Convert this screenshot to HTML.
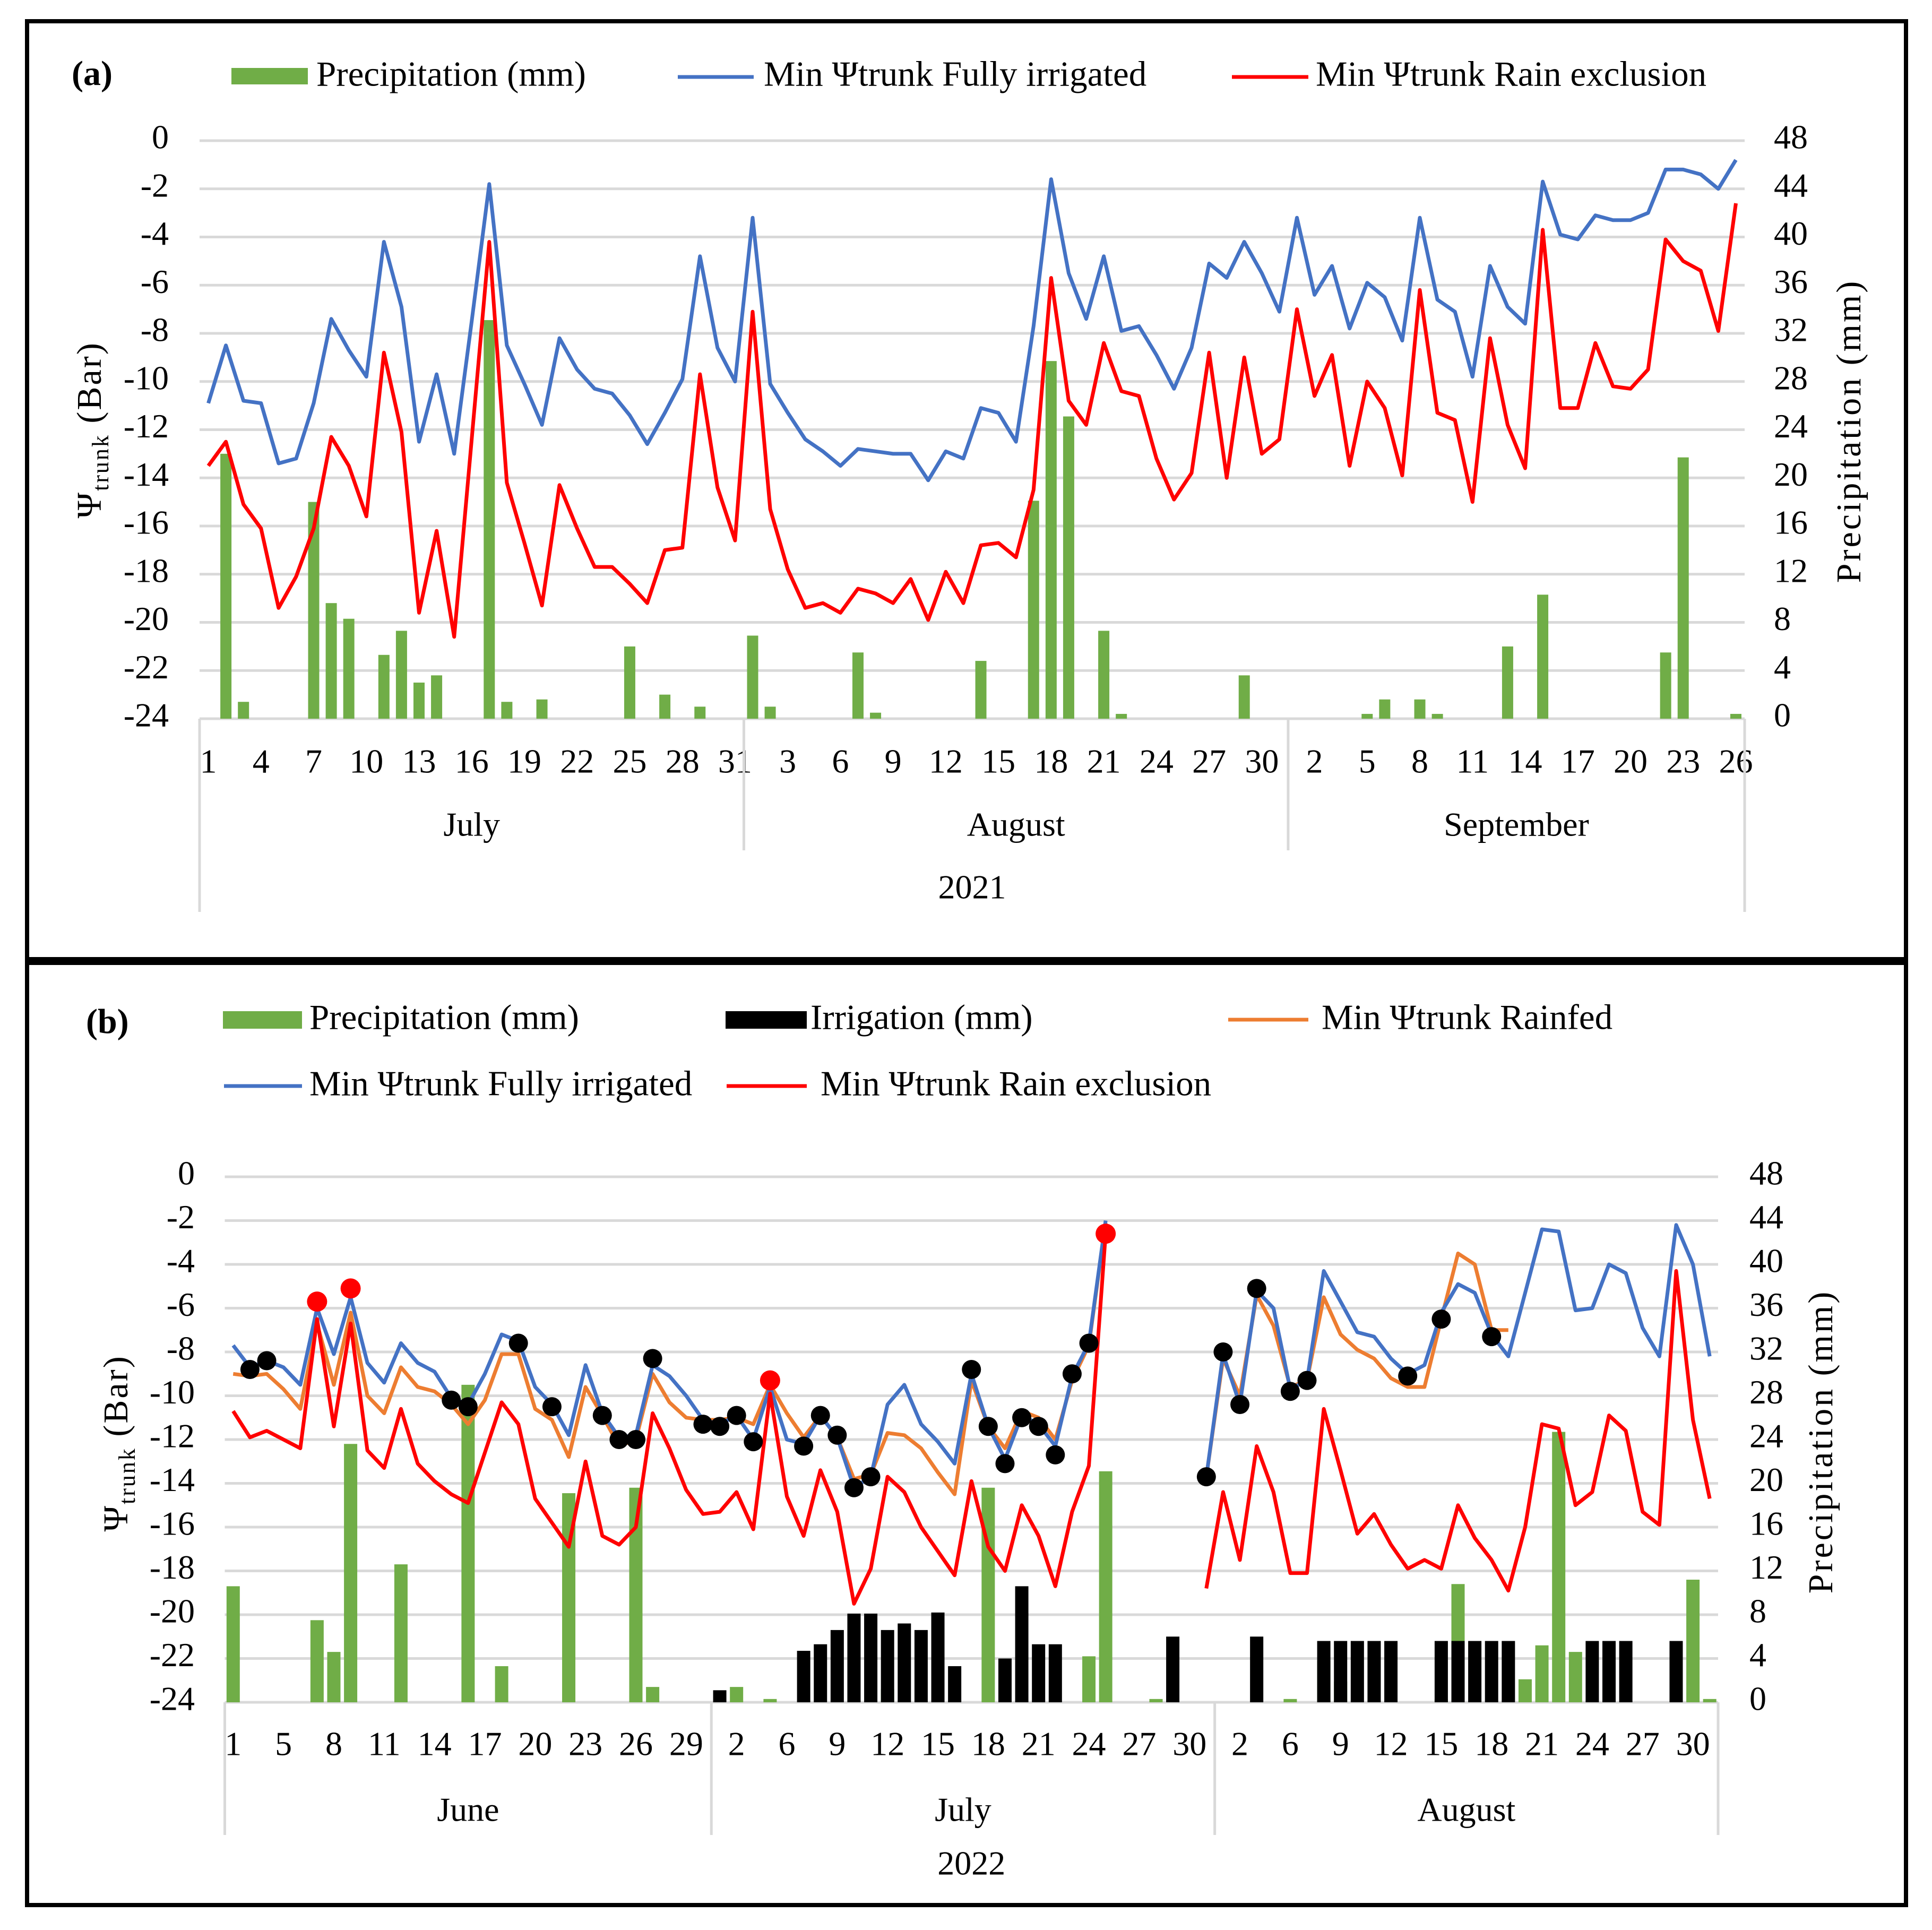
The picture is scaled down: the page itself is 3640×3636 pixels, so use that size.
<!DOCTYPE html>
<html>
<head>
<meta charset="utf-8">
<style>
html,body{margin:0;padding:0;background:#fff;}
svg{display:block;font-family:"Liberation Serif","DejaVu Serif",serif;}
</style>
</head>
<body>
<svg id="fig" xmlns="http://www.w3.org/2000/svg" width="3640" height="3636" viewBox="0 0 3640 3636">
  <rect x="0" y="0" width="3640" height="3636" fill="#fff"/>
  <rect x="51" y="40" width="3540" height="3549" fill="none" stroke="#000" stroke-width="8"/>
  <rect x="51" y="1803" width="3540" height="15" fill="#000"/>

  <g id="panelA">
    <text x="135" y="145" font-size="66" font-weight="bold" dominant-baseline="middle">(a)</text>
    <g>
      <rect x="436" y="128" width="144" height="31" fill="#70AD47"/>
      <text x="596" y="146" font-size="67" dominant-baseline="middle">Precipitation (mm)</text>
      <line x1="1277" y1="145" x2="1420" y2="145" stroke="#4472C4" stroke-width="7"/>
      <text x="1439" y="146" font-size="67" dominant-baseline="middle">Min Ψtrunk Fully irrigated</text>
      <line x1="2321" y1="145" x2="2465" y2="145" stroke="#FF0000" stroke-width="7"/>
      <text x="2479" y="146" font-size="67" dominant-baseline="middle">Min Ψtrunk Rain exclusion</text>
    </g>
    <text transform="translate(190,810) rotate(-90)" text-anchor="middle" font-size="66" letter-spacing="3">Ψ<tspan font-size="44" dy="14">trunk</tspan><tspan dy="-14"> (Bar)</tspan></text>
    <text transform="translate(3505,812) rotate(-90)" text-anchor="middle" font-size="66" letter-spacing="4">Precipitation (mm)</text>
  </g>

  <g id="panelB">
    <text x="162" y="1931" font-size="66" font-weight="bold" dominant-baseline="middle">(b)</text>
    <g>
      <rect x="420" y="1905" width="149" height="33" fill="#70AD47"/>
      <text x="583" y="1923" font-size="67" dominant-baseline="middle">Precipitation (mm)</text>
      <rect x="1367" y="1905" width="153" height="33" fill="#000"/>
      <text x="1527" y="1923" font-size="67" dominant-baseline="middle">Irrigation (mm)</text>
      <line x1="2314" y1="1921" x2="2465" y2="1921" stroke="#ED7D31" stroke-width="7"/>
      <text x="2490" y="1923" font-size="67" dominant-baseline="middle">Min Ψtrunk Rainfed</text>
      <line x1="422" y1="2046" x2="569" y2="2046" stroke="#4472C4" stroke-width="7"/>
      <text x="583" y="2048" font-size="67" dominant-baseline="middle">Min Ψtrunk Fully irrigated</text>
      <line x1="1369" y1="2046" x2="1520" y2="2046" stroke="#FF0000" stroke-width="7"/>
      <text x="1546" y="2048" font-size="67" dominant-baseline="middle">Min Ψtrunk Rain exclusion</text>
    </g>
    <text transform="translate(240,2719) rotate(-90)" text-anchor="middle" font-size="66" letter-spacing="3">Ψ<tspan font-size="44" dy="14">trunk</tspan><tspan dy="-14"> (Bar)</tspan></text>
    <text transform="translate(3452,2716) rotate(-90)" text-anchor="middle" font-size="66" letter-spacing="4">Precipitation (mm)</text>
  </g>
</svg>
<script>
// ---------- Panel (a) data ----------
const catsA = ("1 2 3 4 5 6 7 8 9 10 11 12 13 14 15 16 17 18 19 20 21 22 23 24 25 26 27 28 29 30 31 " +
  "1 2 3 4 5 6 7 8 9 10 11 12 13 14 15 16 17 18 19 20 21 22 23 24 25 26 27 28 29 30 31 " +
  "1 2 3 4 5 6 7 8 9 10 11 12 13 14 15 16 17 18 19 20 21 22 23 24 25 26").split(" ");
const monthsA = ["July", "August", "September"];
const monthCountsA = [31, 31, 26];
const yearA = "2021";
const fullyA = [-10.9,-8.5,-10.8,-10.9,-13.4,-13.2,-10.9,-7.4,-8.7,-9.8,-4.2,-6.9,-12.5,-9.7,-13.0,-7.5,-1.8,-8.5,-10.1,-11.8,-8.2,-9.5,-10.3,-10.5,-11.4,-12.6,-11.3,-9.9,-4.8,-8.6,-10.0,
  -3.2,-10.1,-11.3,-12.4,-12.9,-13.5,-12.8,-12.9,-13.0,-13.0,-14.1,-12.9,-13.2,-11.1,-11.3,-12.5,-7.7,-1.6,-5.5,-7.4,-4.8,-7.9,-7.7,-8.9,-10.3,-8.6,-5.1,-5.7,-4.2,-5.5,-7.1,
  -3.2,-6.4,-5.2,-7.8,-5.9,-6.5,-8.3,-3.2,-6.6,-7.1,-9.8,-5.2,-6.9,-7.6,-1.7,-3.9,-4.1,-3.1,-3.3,-3.3,-3.0,-1.2,-1.2,-1.4,-2.0,-0.8];
const rainExclA = [-13.5,-12.5,-15.1,-16.1,-19.4,-18.1,-16.1,-12.3,-13.5,-15.6,-8.8,-12.1,-19.6,-16.2,-20.6,-12.4,-4.2,-14.2,-16.7,-19.3,-14.3,-16.1,-17.7,-17.7,-18.4,-19.2,-17.0,-16.9,-9.7,-14.4,-16.6,
  -7.1,-15.3,-17.8,-19.4,-19.2,-19.6,-18.6,-18.8,-19.2,-18.2,-19.9,-17.9,-19.2,-16.8,-16.7,-17.3,-14.5,-5.7,-10.8,-11.8,-8.4,-10.4,-10.6,-13.2,-14.9,-13.8,-8.8,-14.0,-9.0,-13.0,-12.4,
  -7.0,-10.6,-8.9,-13.5,-10.0,-11.1,-13.9,-6.2,-11.3,-11.6,-15.0,-8.2,-11.8,-13.6,-3.7,-11.1,-11.1,-8.4,-10.2,-10.3,-9.5,-4.1,-5.0,-5.4,-7.9,-2.6];
const precipA = [0,22.0,1.4,0,0,0,18.0,9.6,8.3,0,5.3,7.3,3.0,3.6,0,0,33.1,1.4,0,1.6,0,0,0,0,6.0,0,2.0,0,1.0,0,0,
  6.9,1.0,0,0,0,0,5.5,0.5,0,0,0,0,0,4.8,0,0,18.1,29.7,25.1,0,7.3,0.4,0,0,0,0,0,0,3.6,0,0,
  0,0,0,0,0.4,1.6,0,1.6,0.4,0,0,0,6.0,0,10.3,0,0,0,0,0,0,5.5,21.7,0,0,0.4];

// ---------- Panel (b) data ----------
const catsB = ("1 2 3 5 6 7 8 9 10 11 12 13 14 15 16 17 18 19 20 21 22 23 24 25 26 27 28 29 30 " +
  "1 2 3 4 6 7 8 9 10 11 12 13 14 15 16 17 18 19 20 21 22 23 24 25 26 27 28 29 30 31 " +
  "1 2 3 4 6 7 8 9 10 11 12 13 14 15 16 17 18 19 20 21 22 23 24 25 26 27 28 29 30 31").split(" ");
const monthsB = ["June", "July", "August"];
const monthCountsB = [29, 30, 30];
const yearB = "2022";
const fullyB = [-7.7,-8.7,-8.4,-8.7,-9.5,-6.0,-8.1,-5.5,-8.5,-9.4,-7.6,-8.5,-8.9,-10.1,-10.4,-9.0,-7.2,-7.5,-9.6,-10.4,-11.8,-8.6,-10.8,-11.9,-11.8,-8.6,-9.1,-10.0,-11.1,-11.3,-10.9,-12.0,
  -9.6,-12.0,-12.2,-10.9,-11.9,-14.2,-13.7,-10.4,-9.5,-11.3,-12.1,-13.1,-9.0,-11.4,-12.9,-10.9,-11.3,-12.3,-9.1,-7.6,-2.0,
  null,null,null,null,null,
  -13.7,-8.1,-10.4,-5.2,
  -6.0,-9.7,-9.3,-4.3,-5.7,-7.1,-7.3,-8.3,-9.0,-8.6,-6.2,-4.9,-5.3,-7.2,-8.2,-5.3,-2.4,-2.5,-6.1,-6.0,-4.0,-4.4,-6.9,-8.2,-2.2,-4.0,-8.2];
const rainfedB = [-9.0,-9.1,-9.0,-9.7,-10.6,-6.7,-9.5,-6.2,-10.0,-10.8,-8.7,-9.6,-9.8,-10.4,-11.3,-10.2,-8.1,-8.1,-10.6,-11.1,-12.8,-9.6,-10.9,-12.3,-12.0,-9.0,-10.3,-11.0,-11.1,-11.1,-11.0,-11.3,
  -9.5,-10.8,-11.9,-10.9,-11.9,-13.8,-13.6,-11.7,-11.8,-12.4,-13.5,-14.5,-9.3,-11.4,-12.4,-10.7,-11.0,-12.0,-9.3,-7.7,-2.1,
  null,null,null,null,null,
  -13.7,-8.3,-10.0,-5.4,
  -6.8,-9.6,-9.3,-5.5,-7.2,-7.9,-8.3,-9.2,-9.6,-9.6,-6.5,-3.5,-4.0,-7.0,-7.0,
  null,null,null,null,null,null,null,null,null,null,null,null];
const rainExclB = [-10.7,-11.9,-11.6,-12.0,-12.4,-6.5,-11.4,-6.7,-12.5,-13.3,-10.6,-13.1,-13.9,-14.5,-14.9,-12.6,-10.3,-11.3,-14.7,-15.8,-16.9,-13.0,-16.4,-16.8,-16.0,-10.8,-12.4,-14.3,-15.4,-15.3,-14.4,-16.1,
  -9.9,-14.6,-16.4,-13.4,-15.3,-19.5,-17.9,-13.7,-14.4,-16.0,-17.1,-18.2,-13.9,-16.9,-18.0,-15.0,-16.4,-18.7,-15.3,-13.2,-2.6,
  null,null,null,null,null,
  -18.8,-14.4,-17.5,-12.3,-14.4,-18.1,-18.1,-10.6,-13.4,-16.3,-15.4,-16.8,-17.9,-17.5,-17.9,-15.0,-16.5,-17.5,-18.9,-16.0,-11.3,-11.5,-15.0,-14.4,-10.9,-11.6,-15.3,-15.9,-4.3,-11.1,-14.7];
const precipB = [10.6,0,0,0,0,7.5,4.6,23.6,0,0,12.6,0,0,0,29.0,0,3.3,0,0,0,19.1,0,0,0,19.6,1.4,0,0,0,
  0,1.4,0,0.3,0,0,0,0,0,0,1.2,0,0,0,0,0,19.6,0,0,0,0,0,4.2,21.1,0,0,0.3,0,0,0,
  0,0,0,0,0.3,0,3.8,1.9,0,0,0,0,0,0.3,10.8,0,0,0,2.1,5.2,24.7,4.6,0,3.5,0,0,0,0.3,11.2,0.3];
const irrigB = [0,0,0,0,0,0,0,0,0,0,0,0,0,0,0,0,0,0,0,0,0,0,0,0,0,0,0,0,0,
  1.1,0,0,0,0,4.7,5.3,6.6,8.1,8.1,6.6,7.2,6.6,8.2,3.3,0,0,4.0,10.6,5.3,5.3,0,0,0,0,0,0,6.0,0,0,
  0,0,6.0,0,0,0,5.6,5.6,5.6,5.6,5.6,0,0,5.6,5.6,5.6,5.6,5.6,0,0,0,0,5.6,5.6,5.6,0,0,5.6,0,0];
const blackMarkIdxB = [1,2,13,14,17,19,22,23,24,25,28,29,30,31,34,35,36,37,38,44,45,46,47,48,49,50,51,58,59,60,61,63,64,70,72,75];
const blackMarkValB = [-8.8,-8.4,-10.2,-10.5,-7.6,-10.5,-10.9,-12.0,-12.0,-8.3,-11.3,-11.4,-10.9,-12.1,-12.3,-10.9,-11.8,-14.2,-13.7,-8.8,-11.4,-13.1,-11.0,-11.4,-12.7,-9.0,-7.6,-13.7,-8.0,-10.4,-5.1,-9.8,-9.3,-9.1,-6.5,-7.3];
const redMarkIdxB = [5,7,32,52];
const redMarkValB = [-5.7,-5.1,-9.3,-2.6];

// axis ticks
const leftTicks = [0,-2,-4,-6,-8,-10,-12,-14,-16,-18,-20,-22,-24];
const rightTicks = [48,44,40,36,32,28,24,20,16,12,8,4,0];

// ---------- drawing ----------
const NS = "http://www.w3.org/2000/svg";
const svg = document.getElementById("fig");
function el(tag, parent) { const e = document.createElementNS(NS, tag); parent.appendChild(e); return e; }
function at(e, o) { for (const k in o) e.setAttribute(k, o[k]); }

function drawPanel(P, cats, months, monthCounts, year) {
  const g = document.getElementById(P.id);
  const n = cats.length;
  const step = (P.x1 - P.x0) / n;
  const xc = i => P.x0 + step * (i + 0.5);
  const yv = v => P.y0 + (-v) / 24 * (P.yb - P.y0);
  const yp = p => P.yb - p / 48 * (P.yb - P.y0);
  P.xc = xc; P.yv = yv; P.yp = yp; P.step = step; P.g = g;

  leftTicks.forEach((t, k) => {
    const y = yv(t);
    const gl = el("line", g);
    at(gl, {x1: P.x0, x2: P.x1, y1: y, y2: y, stroke: "#d9d9d9", "stroke-width": 5});
    
    
    const tl = el("text", g);
    at(tl, {x: P.lx, y: y, "font-size": 64, "text-anchor": "end", "dominant-baseline": "middle"});
    tl.textContent = String(t);
    
    
    const rl = el("text", g);
    at(rl, {x: P.rx, y: yp(rightTicks[k]), "font-size": 64, "text-anchor": "start", "dominant-baseline": "middle"});
    rl.textContent = String(rightTicks[k]);
    
    
  });

  for (let i = 0; i < n; i += 3) {
    const dl = el("text", g);
    at(dl, {x: xc(i), y: P.dayY, "font-size": 64, "text-anchor": "middle", "dominant-baseline": "middle"});
    dl.textContent = cats[i];
    
    
  }

  let start = 0;
  const bounds = [P.x0];
  months.forEach((m, k) => {
    const a = P.x0 + start * step;
    const b = P.x0 + (start + monthCounts[k]) * step;
    bounds.push(b);
    const ml = el("text", g);
    at(ml, {x: (a + b) / 2, y: P.monthY, "font-size": 64, "text-anchor": "middle", "dominant-baseline": "middle"});
    ml.textContent = m;
    
    
    start += monthCounts[k];
  });
  bounds.forEach((b, k) => {
    const outer = (k === 0 || k === bounds.length - 1);
    const vl = el("line", g);
    at(vl, {x1: b, x2: b, y1: P.yb, y2: outer ? P.outerBot : P.innerBot, stroke: "#d9d9d9", "stroke-width": 5});
    
    
  });
  const yl = el("text", g);
  at(yl, {x: (P.x0 + P.x1) / 2, y: P.yearY, "font-size": 64, "text-anchor": "middle", "dominant-baseline": "middle"});
  yl.textContent = year;
  
  
}

function drawBars(P, vals, color, w, name) {
  vals.forEach((v, i) => {
    if (!v) return;
    const r = el("rect", P.g);
    at(r, {x: P.xc(i) - w / 2, y: P.yp(v), width: w, height: P.yb - P.yp(v), fill: color});
    
    
  });
}

function drawLine(P, vals, color, name) {
  let d = "", pen = false;
  vals.forEach((v, i) => {
    if (v === null) { pen = false; return; }
    d += (pen ? "L" : "M") + P.xc(i).toFixed(1) + " " + P.yv(v).toFixed(1) + " ";
    pen = true;
  });
  const p = el("path", P.g);
  at(p, {d: d, fill: "none", stroke: color, "stroke-width": 7, "stroke-linejoin": "round"});
  
  
}

function drawMarkers(P, idx, vals, color, r, name) {
  idx.forEach((i, k) => {
    const c = el("circle", P.g);
    at(c, {cx: P.xc(i), cy: P.yv(vals[k]), r: r, fill: color});
    
    
  });
}

const PA = {id: "panelA", x0: 376, x1: 3287, y0: 265, yb: 1354, lx: 318, rx: 3342,
  dayY: 1441, monthY: 1560, yearY: 1678, innerBot: 1602, outerBot: 1718};
drawPanel(PA, catsA, monthsA, monthCountsA, yearA);
drawBars(PA, precipA, "#70AD47", 21, "bar-precipitation-a");
drawLine(PA, fullyA, "#4472C4", "line-fully-irrigated-a");
drawLine(PA, rainExclA, "#FF0000", "line-rain-exclusion-a");

const PB = {id: "panelB", x0: 423.5, x1: 3237, y0: 2217, yb: 3207, lx: 367, rx: 3296,
  dayY: 3292, monthY: 3416, yearY: 3517, innerBot: 3457, outerBot: 3457};
drawPanel(PB, catsB, monthsB, monthCountsB, yearB);
drawBars(PB, precipB, "#70AD47", 25, "bar-precipitation-b");
drawBars(PB, irrigB, "#000000", 25, "bar-irrigation-b");
drawLine(PB, rainfedB, "#ED7D31", "line-rainfed-b");
drawLine(PB, fullyB, "#4472C4", "line-fully-irrigated-b");
drawLine(PB, rainExclB, "#FF0000", "line-rain-exclusion-b");
drawMarkers(PB, blackMarkIdxB, blackMarkValB, "#000000", 18, "marker-black-b");
drawMarkers(PB, redMarkIdxB, redMarkValB, "#FF0000", 19, "marker-red-b");
</script>
</body>
</html>
